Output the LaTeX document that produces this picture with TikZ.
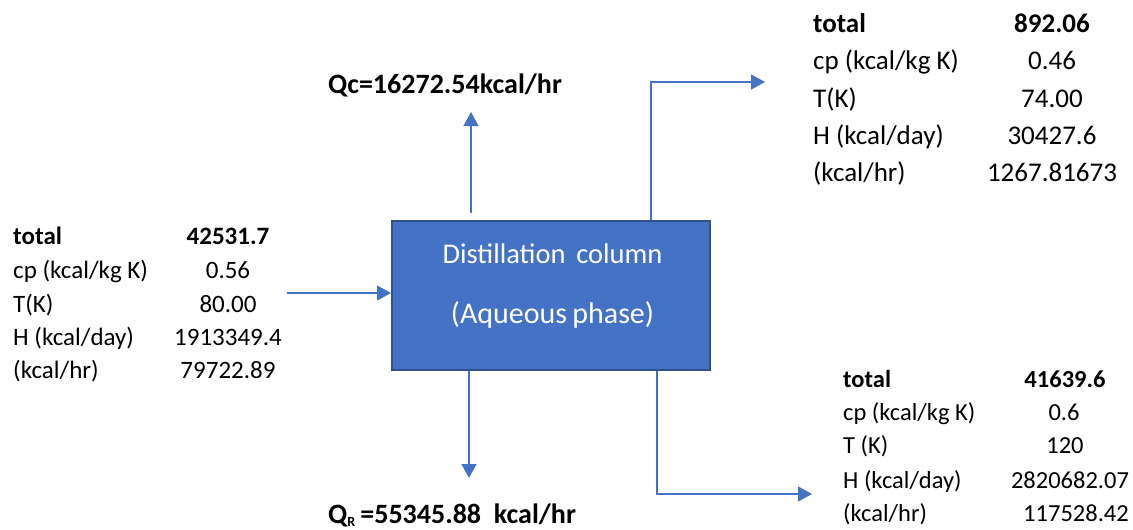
\documentclass[tikz,border=0pt]{standalone}
\usepackage{fontspec}
\setmainfont{Carlito}
\usetikzlibrary{arrows.meta}
\definecolor{boxfill}{HTML}{4472C4}
\definecolor{boxedge}{HTML}{2F528F}
\definecolor{flow}{HTML}{4472C4}

\begin{document}
\begin{tikzpicture}[x=1pt,y=-1pt,
  flowline/.style={draw=flow, line width=1.3pt, -{Triangle[length=14pt,width=15pt]}},
  cell/.style={inner sep=0pt, anchor=base west},
  num/.style={inner sep=0pt, anchor=base},
  feedtxt/.style={font=\fontsize{25}{30}\selectfont},
  disttxt/.style={font=\fontsize{27}{32}\selectfont},
  bottxt/.style={font=\fontsize{24.5}{29}\selectfont},
  duty/.style={inner sep=0pt, anchor=base, font=\bfseries\fontsize{28}{33}\selectfont},
  coltxt/.style={inner sep=0pt, anchor=base, text=white, font=\fontsize{28.5}{34}\selectfont}]
\useasboundingbox (0,0) rectangle (1133,530);

% column
\node[draw=boxedge, fill=boxfill, line width=2pt, minimum width=318pt,
      minimum height=149pt, inner sep=0pt] (col) at (551,295.5) {};
\node[coltxt] (colA) at (552.5,263) {Distillation\hspace{0.15em} column};
\node[coltxt, font=\fontsize{30}{36}\selectfont] (colB) at (552.5,323) {(Aqueous\hspace{-0.05em} phase)};

% feed stream
\begin{scope}[feedtxt]
\node[cell, font=\bfseries\fontsize{25}{30}\selectfont] (fL1) at (13,244) {total};
\node[cell] (fL2) at (13,278) {cp (kcal/kg K)};
\node[cell] (fL3) at (13,312) {T(K)};
\node[cell] (fL4) at (13,345) {H (kcal/day)};
\node[cell] (fL5) at (13,378.5) {(kcal/hr)};
\node[num, font=\bfseries\fontsize{25}{30}\selectfont] (fV1) at (228,244) {42531.7};
\node[num] (fV2) at (228,278) {0.56};
\node[num] (fV3) at (228,312) {80.00};
\node[num] (fV4) at (228,345) {1913349.4};
\node[num] (fV5) at (228,378.5) {79722.89};
\end{scope}

% distillate stream
\begin{scope}[disttxt]
\node[cell, font=\bfseries\fontsize{27}{32}\selectfont] (dL1) at (813,32) {total};
\node[cell] (dL2) at (813,69.5) {cp (kcal/kg K)};
\node[cell] (dL3) at (813,107) {T(K)};
\node[cell] (dL4) at (813,144) {H (kcal/day)};
\node[cell] (dL5) at (813,181) {(kcal/hr)};
\node[num, font=\bfseries\fontsize{27}{32}\selectfont] (dV1) at (1052,32) {892.06};
\node[num] (dV2) at (1052,69.5) {0.46};
\node[num] (dV3) at (1052,107) {74.00};
\node[num] (dV4) at (1052,144) {30427.6};
\node[num] (dV5) at (1052,181) {1267.81673};
\end{scope}

% bottoms stream
\begin{scope}[bottxt]
\node[cell, font=\bfseries\fontsize{24.5}{29}\selectfont] (bL1) at (843,387) {total};
\node[cell] (bL2) at (843,420) {cp (kcal/kg K)};
\node[cell] (bL3) at (843,453.5) {T (K)};
\node[cell] (bL4) at (843,488) {H (kcal/day)};
\node[cell] (bL5) at (843,521.5) {(kcal/hr)};
\node[num, font=\bfseries\fontsize{24.5}{29}\selectfont] (bV1) at (1065,387) {41639.6};
\node[num] (bV2) at (1064,420) {0.6};
\node[num] (bV3) at (1065,453.5) {120};
\node[num] (bV4) at (1070,488) {2820682.07};
\node[num] (bV5) at (1076,521.5) {117528.42};
\end{scope}

% heat duties
\node[duty] (qc) at (445,93) {Qc=16272.54kcal/hr};
\node[duty] (qr) at (452,523) {Q\textsubscript{\fontsize{14}{16}\selectfont R}\,=55345.88\ \ kcal/hr};

% stream and duty connectors
\coordinate (feedstart) at (287,293);
\coordinate (qctip) at (471,112);
\coordinate (qrtip) at (469,478);
\coordinate (disttip) at (765,82);
\coordinate (bottip) at (812,494);

\draw[flowline] (feedstart) -- (feedstart -| col.west);
\draw[flowline, shorten <=7pt] (qctip |- col.north) -- (qctip);
\draw[flowline] (qrtip |- col.south) -- (qrtip);
\draw[flowline] ([xshift=100pt]col.north) |- (disttip);
\draw[flowline] ([xshift=106pt]col.south) |- (bottip);
\end{tikzpicture}
\end{document}
